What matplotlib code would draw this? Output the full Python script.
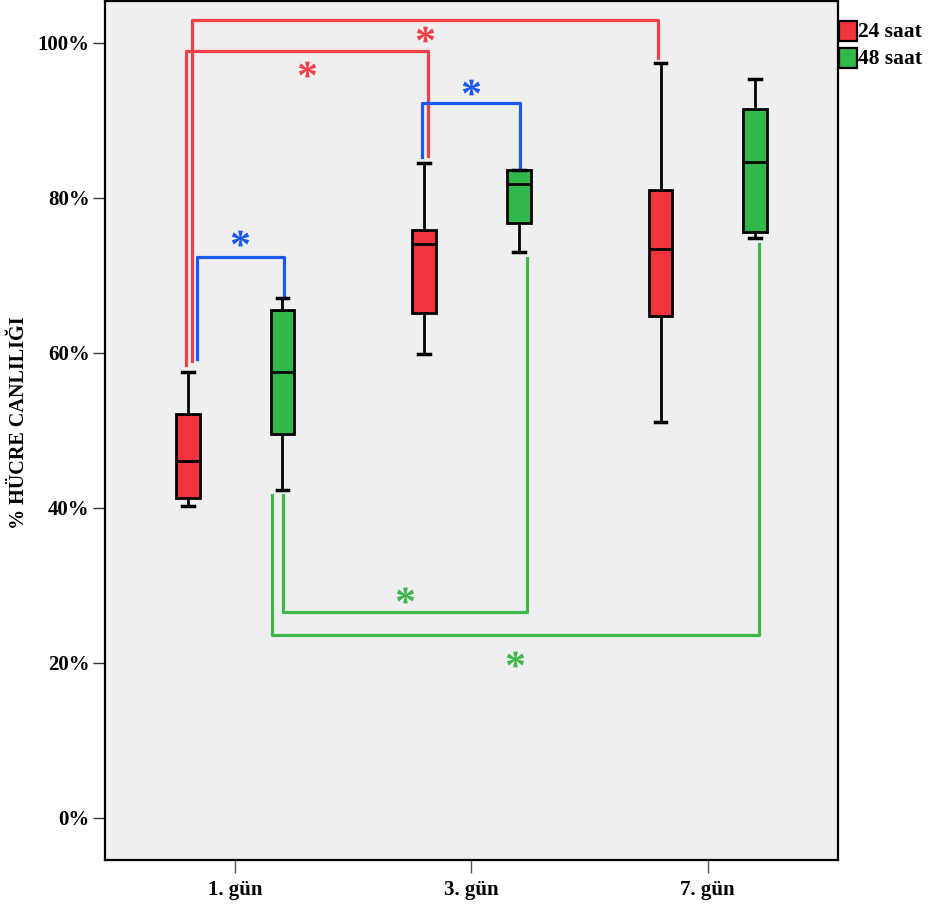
import matplotlib
matplotlib.use("Agg")
import matplotlib.pyplot as plt
from matplotlib.patches import Rectangle
from matplotlib.textpath import TextPath
from matplotlib.font_manager import FontProperties
from matplotlib.path import Path

plt.rcParams['font.family'] = ['Liberation Serif', 'DejaVu Serif']
plt.rcParams['font.weight'] = 'bold'

# Gruplar ve seriler
days = ["1. gün", "3. gün", "7. gün"]
series = ["24 saat", "48 saat"]

# Kutu grafiği özetleri (% hücre canlılığı): alt bıyık, Q1, medyan, Q3, üst bıyık
low_24 = [40.3, 59.8, 51.1]
q1_24 = [41.3, 65.2, 64.8]
med_24 = [46.1, 74.1, 73.4]
q3_24 = [52.1, 75.9, 81.0]
high_24 = [57.6, 84.5, 97.4]

low_48 = [42.3, 73.0, 74.8]
q1_48 = [49.6, 76.8, 75.6]
med_48 = [57.6, 81.8, 84.6]
q3_48 = [65.5, 83.6, 91.5]
high_48 = [67.1, 83.6, 95.4]

# Anlamlılık çizgileri: (gün, seri) -> (gün, seri), yatay seviye, bacak uçları, yıldız seviyesi
sig_from = [(0, 0), (0, 0), (0, 0), (1, 0), (0, 1), (0, 1)]
sig_to = [(2, 0), (1, 0), (0, 1), (1, 1), (1, 1), (2, 1)]
sig_level = [102.9, 99.0, 72.4, 92.3, 26.6, 23.6]
sig_end_from = [59.0, 58.5, 59.2, 85.3, 41.7, 41.7]
sig_end_to = [98.0, 85.4, 67.5, 84.0, 72.3, 74.0]
sig_star = [101.2, 96.6, 74.8, 94.3, 28.8, 20.5]
sig_shift_from = [0.018, -0.008, 0.038, -0.011, 0.002, -0.044]
sig_shift_to = [-0.012, 0.018, 0.005, 0.005, 0.033, 0.016]
sig_color = ["#f0404a", "#f0404a", "#1c58f2", "#1c58f2", "#3cb84c", "#3cb84c"]

box_colors = ["#f0343c", "#30b84a"]
offset = 0.2

fig = plt.figure(figsize=(9.31, 9.06), dpi=100)
ax = fig.add_axes([105 / 931, 46 / 906, 733 / 931, 859 / 906])
ax.set_facecolor("#efefef")


def pos(day, s):
    return day + (-offset if s == 0 else offset)


# kutular
all_stats = [
    (low_24, q1_24, med_24, q3_24, high_24),
    (low_48, q1_48, med_48, q3_48, high_48),
]
for s, (lo, q1, med, q3, hi) in enumerate(all_stats):
    stats = [dict(whislo=lo[i], q1=q1[i], med=med[i], q3=q3[i], whishi=hi[i], fliers=[])
             for i in range(len(days))]
    ax.bxp(stats, positions=[pos(i, s) for i in range(len(days))], widths=0.1,
           capwidths=0.05, patch_artist=True, showfliers=False,
           boxprops=dict(facecolor=box_colors[s], edgecolor="black", linewidth=2.0),
           medianprops=dict(color="black", linewidth=2.0),
           whiskerprops=dict(color="black", linewidth=2.0),
           capprops=dict(color="black", linewidth=2.5),
           manage_ticks=False, zorder=3)

# yıldız işareti: harf yolunu ortala, kapanış noktalarını merkeze al
tp = TextPath((0, 0), "*", prop=FontProperties(family="Liberation Serif", weight="bold"), size=1)
ext = tp.get_extents()
verts = tp.vertices - [(ext.x0 + ext.x1) / 2, (ext.y0 + ext.y1) / 2]
verts[tp.codes == Path.CLOSEPOLY] = 0
star = Path(verts, tp.codes)

for i in range(len(sig_from)):
    x0 = pos(*sig_from[i]) + sig_shift_from[i]
    x1 = pos(*sig_to[i]) + sig_shift_to[i]
    ax.plot([x0, x0, x1, x1], [sig_end_from[i], sig_level[i], sig_level[i], sig_end_to[i]],
            color=sig_color[i], linewidth=2.3, solid_joinstyle="round", zorder=2)
    ax.plot((x0 + x1) / 2, sig_star[i], marker=star, markersize=12.5,
            color=sig_color[i], markeredgewidth=0, linestyle="none", zorder=4)

ax.set_xlim(-0.551, 2.551)
ax.set_ylim(-5.42, 105.4)
ax.set_xticks(range(len(days)))
ax.set_xticklabels(days, fontsize=15, fontweight="bold")
ax.set_yticks([0, 20, 40, 60, 80, 100])
ax.set_yticklabels([f"{v}%" for v in [0, 20, 40, 60, 80, 100]], fontsize=15, fontweight="bold")
ax.tick_params(axis="y", length=9, width=1, color="#333333", pad=2)
ax.tick_params(axis="x", length=9.5, width=1, color="#555555", pad=5)
for sp in ax.spines.values():
    sp.set_linewidth(1.6)
    sp.set_color("black")

fig.text(19 / 931, 1 - 423 / 906, "% HÜCRE CANLILIĞI", rotation=90, fontsize=14.5,
         fontweight="bold", ha="center", va="center")

# lejant
for s, name in enumerate(series):
    top = [21, 48][s]
    fig.add_artist(Rectangle((839 / 931, 1 - (top + 20) / 906), 18 / 931, 20 / 906,
                             transform=fig.transFigure, facecolor=box_colors[s],
                             edgecolor="black", linewidth=1.6))
    fig.text(858 / 931, 1 - (top + 11) / 906, name, fontsize=15.5, fontweight="bold",
             ha="left", va="center")

fig.savefig("out.png", dpi=100)
